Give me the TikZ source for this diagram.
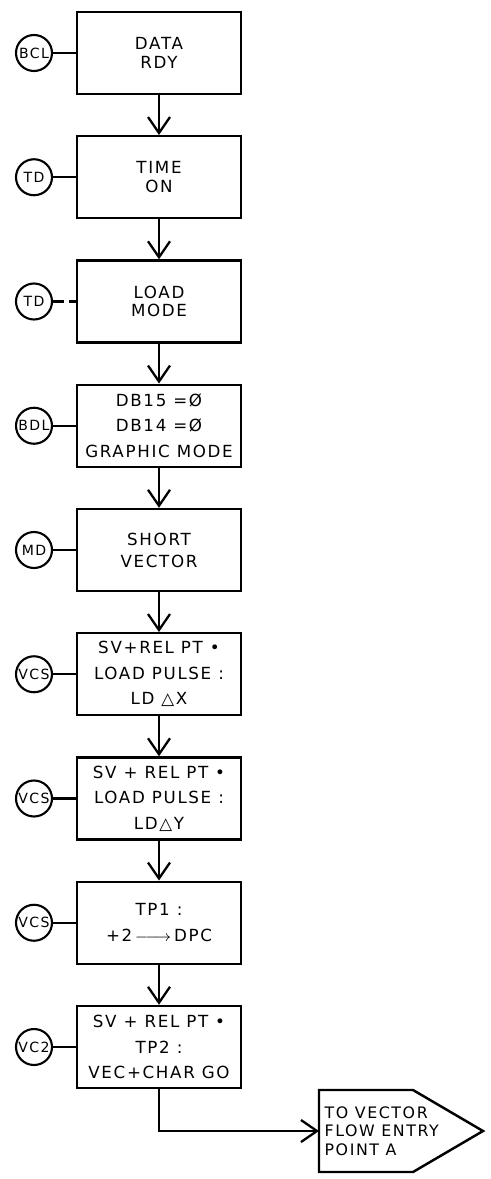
\documentclass[tikz,border=0pt]{standalone}
\usepackage{fontspec}
\setmainfont{DejaVu Sans}[LetterSpace=10]
\usetikzlibrary{arrows.meta}
\tikzset{
  stepbox/.style={draw,line width=1.4pt,minimum width=3.28cm,minimum height=1.64cm,align=center,font=\fontsize{9.5}{10.5}\selectfont},
  tag/.style={draw,circle,line width=1.2pt,minimum size=0.72cm,inner sep=0pt,font=\fontsize{8}{9}\selectfont},
  flow/.style={line width=1.3pt,-{Straight Barb[length=0.32cm,width=0.44cm]}},
  brokenlink/.style={dash pattern=on 6pt off 3pt}
}
\begin{document}
\begin{tikzpicture}[x=0.02cm,y=-0.02cm]
\useasboundingbox (0,0) rectangle (490,1179);
% the steps, each with its signal tag on the left
\foreach \i/\lbl/\lk/\txt in {
  0/BCL/solid/{DATA\\RDY},
  1/TD/solid/{TIME\\ON},
  2/TD/brokenlink/{LOAD\\MODE},
  3/BDL/solid/{DB15 =Ø\\[4pt]DB14 =Ø\\[4pt]GRAPHIC MODE},
  4/MD/solid/{SHORT\\[2pt]VECTOR},
  5/VCS/solid/{SV+REL PT •\\[4pt]LOAD PULSE :\\[4pt]LD △X},
  6/VCS/solid/{SV + REL PT •\\[4pt]LOAD PULSE :\\[4pt]LD△Y},
  7/VCS/solid/{TP1 :\\[4pt]+2\,$\relbar\joinrel\longrightarrow$\,DPC},
  8/VC2/solid/{SV + REL PT •\\[4pt]TP2 :\\[4pt]VEC+CHAR GO}} {
  \node[stepbox] (box\i) at (159,53+124.25*\i) {\txt};
  \node[tag] (tag\i) at (34,53+124.25*\i) {\lbl};
  \draw[line width=1.3pt,\lk] (tag\i) -- (box\i);
}
\foreach \i [count=\j] in {0,...,7} {\draw[flow] (box\i) -- (box\j);}
% exit to the vector flow
\node[align=left,anchor=west,inner sep=3pt,font=\fontsize{9}{10.5}\selectfont] (entry) at (319,1131) {TO VECTOR\\FLOW ENTRY\\POINT A};
\draw[line width=1.4pt] (entry.west) ++(0,-41) -- ++(94,0) -- ++(70,41) -- ++(-70,41) -- ++(-94,0) -- cycle;
\draw[flow] (box8) |- (entry);
\end{tikzpicture}
\end{document}
